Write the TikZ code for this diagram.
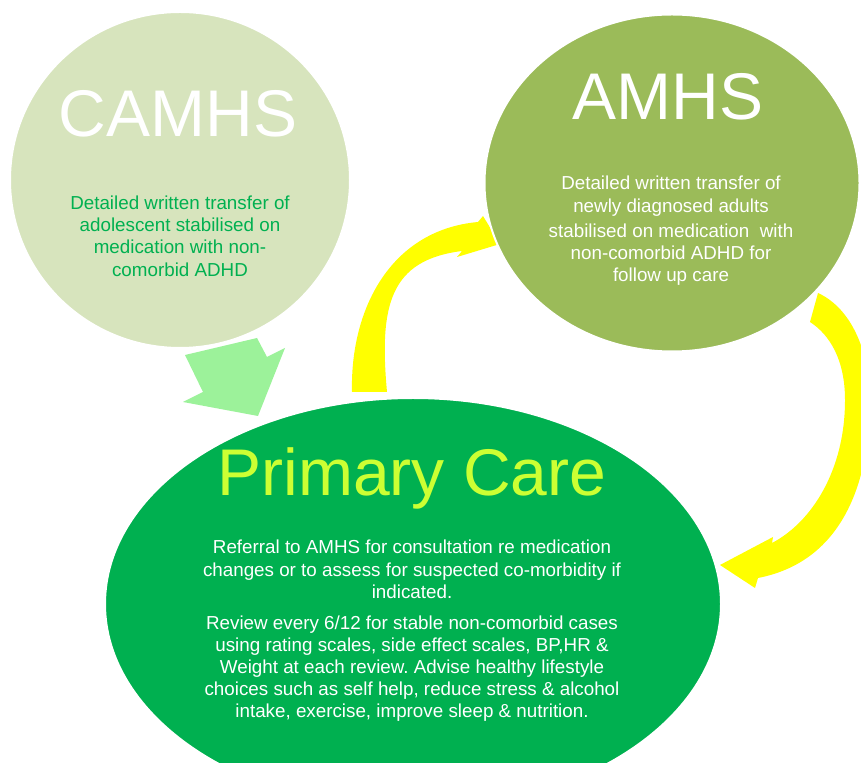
\documentclass[tikz,border=0pt]{standalone}
\usepackage{fontspec}
\setmainfont{Liberation Sans}
\usepackage{tikz}
\usetikzlibrary{shapes.geometric}
\frenchspacing

\definecolor{camhsgreen}{HTML}{D7E4BD}
\definecolor{amhsgreen}{HTML}{9BBB59}
\definecolor{primarygreen}{HTML}{00B050}
\definecolor{titlelime}{HTML}{CCFF33}
\definecolor{arrowgreen}{HTML}{9CF29A}
\definecolor{arrowyellow}{HTML}{FFFF00}

\tikzset{
  service/.style={ellipse, draw=white, line width=1pt, inner sep=0pt},
  heading/.style={anchor=base, text=white, font=\fontsize{33}{38}\selectfont},
  detail/.style={align=center, text=white, font=\fontsize{9.4}{11.1}\selectfont},
}

\begin{document}
\begin{tikzpicture}[x=0.5pt, y=-0.5pt]
\useasboundingbox (0,0) rectangle (861,763);
\clip (0,0) rectangle (861,763);

% block arrows
\fill[arrowgreen] (185,355)--(257,338)--(267,357)--(285,348)--(258,416)--(183,402)--(203,392)--cycle;
\fill[arrowyellow] (352,392) .. controls (350,310) and (390,230) .. (478,222)--(483,216)--(500,244)--(457,257)--(462,251) .. controls (390,260) and (379,305) .. (387,392)--cycle;
\fill[arrowyellow] (818,293) .. controls (855,310) and (872,360) .. (870,410) .. controls (868,470) and (850,560) .. (758,578)--(755,588)--(720,565)--(773,537)--(772,543) .. controls (812,522) and (845,470) .. (845,400) .. controls (845,360) and (830,335) .. (810,322)--cycle;

% services
\node[service, fill=camhsgreen, minimum width=170pt, minimum height=168pt] (camhs) at (180,180) {};
\node[service, fill=amhsgreen, minimum width=187.5pt, minimum height=168.5pt] (amhs) at (672,183) {};
\node[service, fill=primarygreen, minimum width=308pt, minimum height=206pt] (primary) at (413,604) {};

\node[heading] (camhs-title) at (178,137) {CAMHS};
\node[heading] (amhs-title) at (668,120) {AMHS};
\node[heading, text=titlelime] (primary-title) at (412,496) {Primary Care};

\node[detail, text=primarygreen] (camhs-text) at (180,236)
{Detailed written transfer of\\adolescent stabilised on\\medication with non-\\comorbid ADHD};
\node[detail] (amhs-text) at (671,231)
{Detailed written transfer of\\newly diagnosed adults\\[1.5pt]
stabilised on medication~ with\\non-comorbid ADHD for\\follow up care};
\node[detail] (primary-text) at (412,631)
{Referral to AMHS for consultation re medication\\changes or to assess for suspected co-morbidity if\\indicated.\\[4.3pt]
Review every 6/12 for stable non-comorbid cases\\using rating scales, side effect scales, BP,HR \&\\Weight at each review. Advise healthy lifestyle\\choices such as self help, reduce stress \& alcohol\\intake, exercise, improve sleep \& nutrition.};

\end{tikzpicture}
\end{document}
